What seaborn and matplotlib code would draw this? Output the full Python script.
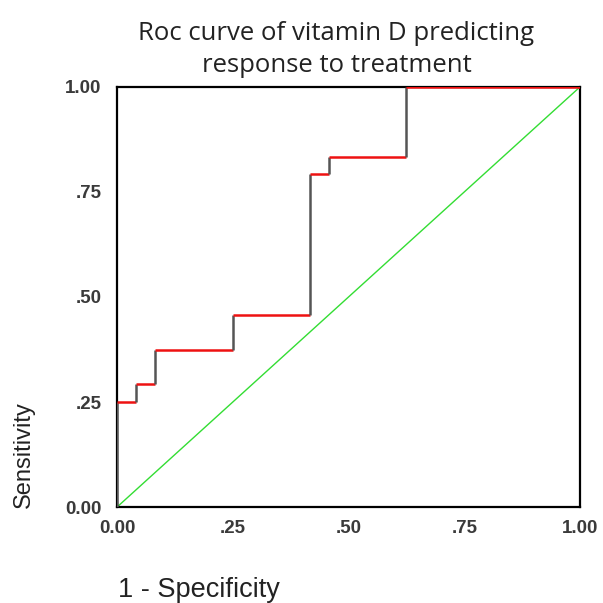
import numpy as np
import pandas as pd
import matplotlib
matplotlib.use("Agg")
import matplotlib.pyplot as plt
import seaborn as sns

sns.set_style("white")
plt.rcParams['font.family'] = ['Liberation Sans', 'DejaVu Sans']

# ROC curve vertices (1 - specificity, sensitivity)
fpr = [0.0, 0.0, 0.042, 0.042, 0.083, 0.083, 0.25, 0.25, 0.417, 0.417, 0.458, 0.458, 0.625, 0.625, 1.0]
tpr = [0.0, 0.25, 0.25, 0.292, 0.292, 0.375, 0.375, 0.458, 0.458, 0.792, 0.792, 0.833, 0.833, 1.0, 1.0]
ref_line = [0.0, 1.0]
tick_vals = [0.0, 0.25, 0.5, 0.75, 1.0]
tick_labels = ["0.00", ".25", ".50", ".75", "1.00"]

fig = plt.figure(figsize=(6.03, 6.03), dpi=100)
ax = fig.add_axes([0.194, 0.159, 0.768, 0.697])

# diagonal reference line
sns.lineplot(x=ref_line, y=ref_line, ax=ax, color="#33dd33", linewidth=1.0)

# step curve: horizontal parts red, vertical parts dark grey
for i in range(len(fpr) - 1):
    xs = [fpr[i], fpr[i + 1]]
    ys = [tpr[i], tpr[i + 1]]
    col = "#ee1111" if ys[0] == ys[1] else "#555555"
    ax.plot(xs, ys, color=col, linewidth=1.8, solid_capstyle="butt", zorder=3)

ax.set_xlim(0, 1)
ax.set_ylim(0, 1)
ax.set_xticks(tick_vals)
ax.set_xticklabels(tick_labels)
ax.set_yticks(tick_vals)
ax.set_yticklabels(tick_labels)
ax.tick_params(axis="x", length=0, labelsize=13.5, pad=9)
ax.tick_params(axis="y", length=0, labelsize=13.5, pad=11)
for lab in ax.get_xticklabels() + ax.get_yticklabels():
    lab.set_fontweight("bold")
    lab.set_color("#3a3a3a")

for sp in ax.spines.values():
    sp.set_visible(True)
    sp.set_color("black")
    sp.set_linewidth(1.6)

ax.set_xlabel("")
ax.set_ylabel("")
fig.text(0.195, 0.0, "1 - Specificity", fontsize=19.5, ha="left", va="bottom", color="#222222")
fig.text(0.022, 0.158, "Sensitivity", fontsize=17, rotation=90, ha="left", va="bottom", color="#222222")
fig.text(0.558, 0.965, "Roc curve of vitamin D predicting\nresponse to treatment",
         fontsize=18.5, ha="center", va="top", linespacing=1.35,
         family=["Open Sans", "DejaVu Sans"], color="#222222")

fig.savefig("out.png", dpi=100)
